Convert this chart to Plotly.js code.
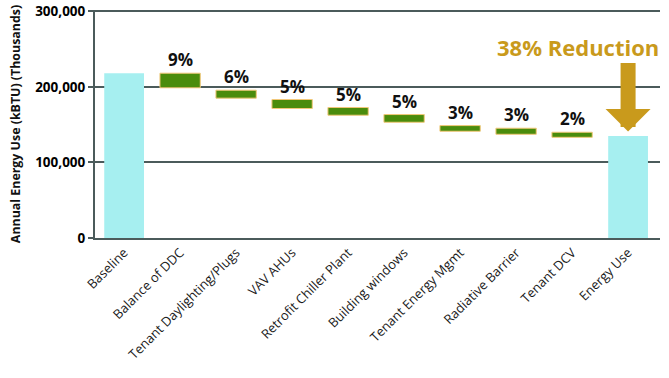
<!DOCTYPE html>
<html>
<head>
<meta charset="utf-8">
<script src="https://cdn.plot.ly/plotly-3.0.1.min.js"></script>
<style>html,body{margin:0;padding:0;background:#fff;}#chart{width:669px;height:378px;}</style>
</head>
<body>
<div id="chart"></div>
<script>
// ---- data ----
var categories = ["Baseline", "Balance of DDC", "Tenant Daylighting/Plugs", "VAV AHUs",
  "Retrofit Chiller Plant", "Building windows", "Tenant Energy Mgmt", "Radiative Barrier",
  "Tenant DCV", "Energy Use"];
var totalCategories = ["Baseline", "Energy Use"];
var totalValues = [218000, 135000];
var stepCategories = ["Balance of DDC", "Tenant Daylighting/Plugs", "VAV AHUs",
  "Retrofit Chiller Plant", "Building windows", "Tenant Energy Mgmt", "Radiative Barrier", "Tenant DCV"];
var stepTop = [218000, 195500, 183200, 172600, 163300, 148700, 145200, 139900];
var stepBottom = [198700, 185000, 171300, 162400, 153100, 141200, 137200, 133200];
var stepLabels = ["9%", "6%", "5%", "5%", "5%", "3%", "3%", "2%"];
var yTicks = [0, 100000, 200000, 300000];
var reductionText = "38% Reduction";
var arrowTipValue = 140800;

var stepHeights = stepTop.map(function (t, i) { return t - stepBottom[i]; });

var traces = [
  {
    type: "bar", x: totalCategories, y: totalValues, width: 0.71,
    marker: { color: "#a6eff0", line: { width: 0 } },
    hoverinfo: "x+y", showlegend: false
  },
  {
    type: "bar", x: stepCategories, y: stepHeights, base: stepBottom, width: 0.72,
    marker: { color: "#4a8c0c", line: { color: "#f2c879", width: 1 } },
    showlegend: false
  }
];

var annotations = stepCategories.map(function (c, i) {
  return {
    x: c, y: stepTop[i], xref: "x", yref: "y", text: stepLabels[i],
    showarrow: false, yanchor: "bottom", yshift: 0,
    font: { family: "Open Sans", size: 17, color: "#111", weight: 700 }
  };
});
annotations.push({
  x: "Energy Use", y: 1, xref: "x", yref: "paper", xshift: -50, yshift: -54,
  text: reductionText, showarrow: false, yanchor: "bottom",
  font: { family: "Open Sans", size: 22, color: "#c99a1c", weight: 700 }
});
annotations.push({
  x: "Energy Use", y: arrowTipValue, xref: "x", yref: "y", text: "",
  showarrow: true, ax: 0, ay: -70, arrowcolor: "#c99a1c", arrowwidth: 15,
  arrowhead: 1, arrowsize: 0.5, standoff: 0
});

var axisColor = "#4b5b5b";
var layout = {
  width: 669, height: 378,
  margin: { l: 95, r: 9, t: 10, b: 140 },
  paper_bgcolor: "#ffffff", plot_bgcolor: "#ffffff",
  barmode: "overlay",
  font: { family: "Open Sans", color: "#111" },
  xaxis: {
    type: "category", categoryorder: "array", categoryarray: categories,
    range: [-0.52, 9.57], tickangle: -45,
    tickfont: { family: "Open Sans", size: 13, color: "#1a1a1a" },
    showline: true, linecolor: axisColor, linewidth: 2, ticks: "", showgrid: false,
    fixedrange: true
  },
  yaxis: {
    range: [0, 301600], tickvals: yTicks, tickformat: ",d",
    tickfont: { family: "Open Sans", size: 13.5, color: "#000", weight: 700 },
    showline: true, linecolor: axisColor, linewidth: 2,
    ticks: "outside", ticklen: 5, tickwidth: 2, tickcolor: axisColor,
    showgrid: true, gridcolor: axisColor, gridwidth: 2, zeroline: false,
    title: { text: "Annual Energy Use (kBTU) (Thousands)", standoff: 12,
      font: { family: "Open Sans", size: 12.4, color: "#111", weight: 700 } },
    fixedrange: true
  },
  annotations: annotations
};

Plotly.newPlot("chart", traces, layout, { displayModeBar: false, staticPlot: true });
</script>
</body>
</html>
